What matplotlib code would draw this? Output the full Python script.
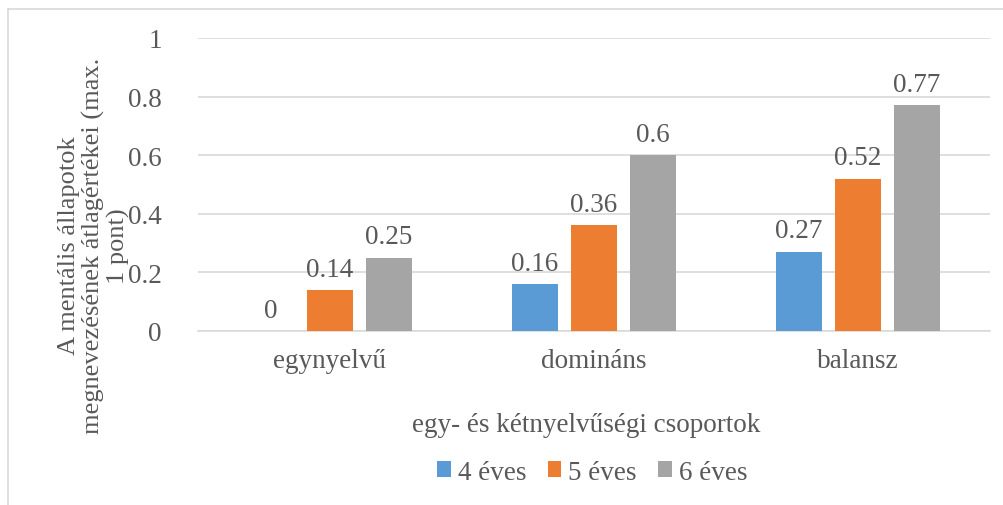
import numpy as np
import matplotlib.pyplot as plt
from matplotlib.lines import Line2D

plt.rcParams['font.family'] = ['Liberation Serif', 'DejaVu Serif']

categories = ["egynyelvű", "domináns", "balansz"]
series_names = ["4 éves", "5 éves", "6 éves"]
vals_4 = [0, 0.16, 0.27]
vals_5 = [0.14, 0.36, 0.52]
vals_6 = [0.25, 0.6, 0.77]
colors = ["#5B9BD5", "#ED7D31", "#A5A5A5"]
yticks = [0, 0.2, 0.4, 0.6, 0.8, 1]
text_col = "#595959"
grid_col = "#D9D9D9"

fig = plt.figure(figsize=(10.04, 5.06), dpi=100)
ax = fig.add_axes([0.197, 0.344, 0.789, 0.579])

x = np.arange(len(categories))
width = 0.174
step = 0.2235
for i, (vals, name) in enumerate(zip([vals_4, vals_5, vals_6], series_names)):
    pos = x + (i - 1) * step
    bars = ax.bar(pos, vals, width, color=colors[i], label=name, zorder=3)
    for b, v in zip(bars, vals):
        ax.annotate(f"{v:g}", (b.get_x() + b.get_width() / 2, v),
                    xytext=(0, 6), textcoords="offset points",
                    ha="center", va="bottom", fontsize=19.5, color=text_col)

ax.set_xlim(-0.5, 2.5)
ax.set_ylim(0, 1)
ax.set_yticks(yticks)
ax.set_yticklabels([f"{t:g}" for t in yticks])
ax.set_xticks(x)
ax.set_xticklabels(categories)
ax.tick_params(axis="both", length=0, labelsize=19.5, labelcolor=text_col)
ax.tick_params(axis="x", pad=12)
ax.tick_params(axis="y", pad=26)
ax.grid(axis="y", color=grid_col, linewidth=1.2, zorder=0)
for s in ["top", "right", "left"]:
    ax.spines[s].set_visible(False)
ax.spines["bottom"].set_color(grid_col)
ax.spines["bottom"].set_linewidth(1.2)

fig.text(0.0935, 1 - 246 / 506, "A mentális állapotok\nmegnevezésének átlagértékei (max.\n1 pont)",
         rotation=90, ha="center", va="center", fontsize=19, color=text_col,
         linespacing=1.12, multialignment="center")
fig.text(0.584, 1 - 425 / 506, "egy- és kétnyelvűségi csoportok",
         ha="center", va="center", fontsize=19.5, color=text_col)

leg = fig.legend(loc="center", bbox_to_anchor=(0.59, 1 - 473 / 506), ncol=3,
                 frameon=False, fontsize=19.5, handlelength=0.5, handleheight=0.5,
                 handletextpad=0.25, columnspacing=0.8)
for t in leg.get_texts():
    t.set_color(text_col)

# chart border
fig.add_artist(Line2D([8 / 1004, 1], [1 - 10 / 506] * 2, color=grid_col, lw=1.2))
fig.add_artist(Line2D([8 / 1004] * 2, [0, 1 - 10 / 506], color=grid_col, lw=1.2))

fig.savefig("out.png", dpi=100)
